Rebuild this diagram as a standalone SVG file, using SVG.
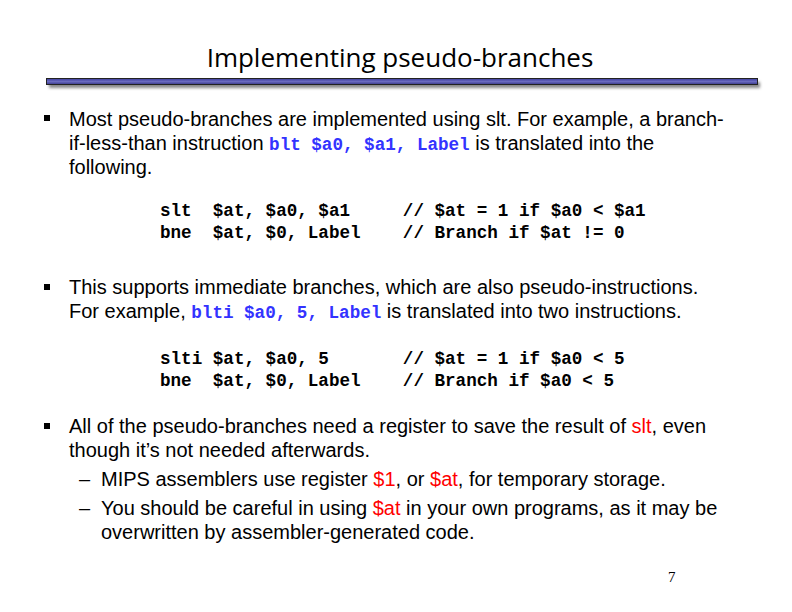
<svg xmlns="http://www.w3.org/2000/svg" width="792" height="612" viewBox="0 0 792 612">
<defs>
<linearGradient id="barGrad" x1="0" y1="0" x2="0" y2="1">
<stop offset="0" stop-color="#3a3a9a"/>
<stop offset="0.5" stop-color="#6a6ac0"/>
<stop offset="1" stop-color="#3a3a8a"/>
</linearGradient>
<filter id="shadow" x="-5%" y="-100%" width="110%" height="400%">
<feGaussianBlur stdDeviation="1.5"/>
</filter>
</defs>
<style>
.title{font-family:"Open Sans","DejaVu Sans",sans-serif;font-size:26px;fill:#000;}
.body{font-family:"Liberation Sans",Arial,sans-serif;font-size:20px;fill:#000;}
.code{font-family:"Liberation Mono","Courier New",monospace;font-size:17.6px;font-weight:bold;fill:#000;white-space:pre;}
.icode{font-family:"Liberation Mono","Courier New",monospace;font-size:17.6px;font-weight:bold;fill:#3333ff;white-space:pre;}
.red{fill:#ff0000;}
.pg{font-family:"Liberation Serif","Times New Roman",serif;font-size:15px;fill:#000;}
</style>
<rect width="792" height="612" fill="#ffffff"/>
<g id="title">
<text class="title" x="400" y="67" text-anchor="middle">Implementing pseudo-branches</text>
<rect x="49" y="82" width="711" height="6" fill="#888" filter="url(#shadow)"/>
<rect x="46.5" y="78.5" width="711" height="6" fill="url(#barGrad)" stroke="#222" stroke-width="1"/>
</g>
<g id="bullet1">
<rect x="44" y="115" width="6" height="6" fill="#000"/>
<text class="body" x="69" y="126">Most pseudo-branches are implemented using slt. For example, a branch-</text>
<text class="body" x="69" y="150">if-less-than instruction <tspan class="icode">blt $a0, $a1, Label</tspan> is translated into the</text>
<text class="body" x="69" y="174">following.</text>
</g>
<g id="code1">
<text class="code" x="160" y="216">slt  $at, $a0, $a1     // $at = 1 if $a0 &lt; $a1</text>
<text class="code" x="160" y="238">bne  $at, $0, Label    // Branch if $at != 0</text>
</g>
<g id="bullet2">
<rect x="44" y="284" width="6" height="6" fill="#000"/>
<text class="body" x="69" y="294">This supports immediate branches, which are also pseudo-instructions.</text>
<text class="body" x="69" y="318">For example, <tspan class="icode">blti $a0, 5, Label</tspan> is translated into two instructions.</text>
</g>
<g id="code2">
<text class="code" x="160" y="364">slti $at, $a0, 5       // $at = 1 if $a0 &lt; 5</text>
<text class="code" x="160" y="386">bne  $at, $0, Label    // Branch if $a0 &lt; 5</text>
</g>
<g id="bullet3">
<rect x="44" y="423" width="6" height="6" fill="#000"/>
<text class="body" x="69" y="433">All of the pseudo-branches need a register to save the result of <tspan class="red">slt</tspan>, even</text>
<text class="body" x="69" y="457">though it’s not needed afterwards.</text>
</g>
<g id="sub1">
<text class="body" x="79" y="486">–</text>
<text class="body" x="101" y="486">MIPS assemblers use register <tspan class="red">$1</tspan>, or <tspan class="red">$at</tspan>, for temporary storage.</text>
</g>
<g id="sub2">
<text class="body" x="79" y="515">–</text>
<text class="body" x="101" y="515">You should be careful in using <tspan class="red">$at</tspan> in your own programs, as it may be</text>
<text class="body" x="101" y="539">overwritten by assembler-generated code.</text>
</g>
<g id="page">
<text class="pg" x="668" y="582">7</text>
</g>
</svg>
